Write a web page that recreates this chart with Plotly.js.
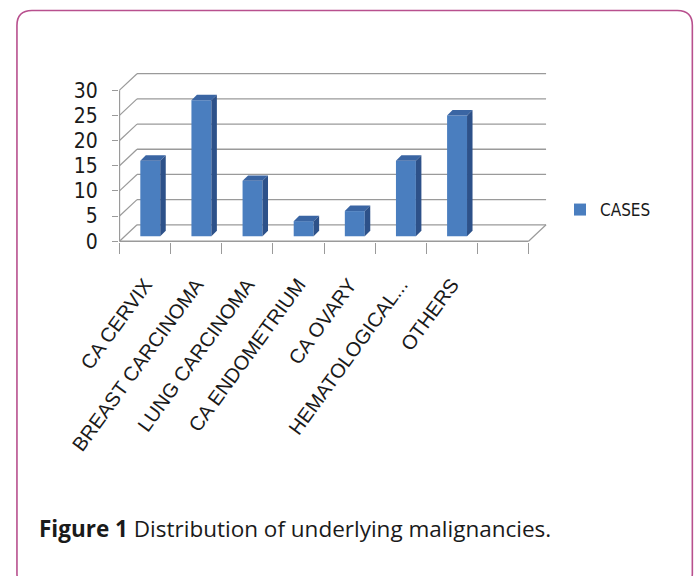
<!DOCTYPE html>
<html>
<head>
<meta charset="utf-8">
<script src="https://cdn.plot.ly/plotly-3.0.1.min.js"></script>
<style>
  html, body { margin: 0; padding: 0; background: #ffffff; }
  #chart { width: 695px; height: 576px; }
</style>
</head>
<body>
<div id="chart"></div>
<script>
// ---- data ----
const categories = ['CA CERVIX', 'BREAST CARCINOMA', 'LUNG CARCINOMA', 'CA ENDOMETRIUM', 'CA OVARY', 'HEMATOLOGICAL...', 'OTHERS'];
const cases = [15, 27, 11, 3, 5, 15, 24];
const yTicks = [0, 5, 10, 15, 20, 25, 30];
const seriesName = 'CASES';
const captionBold = 'Figure 1';
const captionText = 'Distribution of underlying malignancies.';

// ---- geometry / style ----
const W = 695, H = 576;
const nSlots = categories.length + 1;
const slotPx = 51.1, unitPx = 5.057;
const frontLeftPx = 119.5, zeroPx = 241.7;
const backDxPx = 17.5, backDyPx = 16.5;
const barShiftXPx = 5.2, barShiftYPx = 5.0, barDepthPx = 5.5;
const barWidth = 0.39;

const xr = [-0.51, nSlots - 0.5 + 0.4];
const yr = [-0.15, 34];
const ml = frontLeftPx + (xr[0] + 0.5) * slotPx;
const plotW = (xr[1] - xr[0]) * slotPx;
const mt = zeroPx - yr[1] * unitPx;
const plotH = (yr[1] - yr[0]) * unitPx;
const mb = H - mt - plotH;
const mr = W - ml - plotW;

const bdx = backDxPx / slotPx, bdy = backDyPx / unitPx;
const fx = barShiftXPx / slotPx, fy = barShiftYPx / unitPx;
const ddx = barDepthPx / slotPx, ddy = barDepthPx / unitPx;

const gridColor = '#9a9a9a';
const frontColor = '#4a7ebf', topColor = '#3a65a3', sideColor = '#2d5189';
const condensed = 'DejaVu Sans Condensed, Liberation Sans, Arial, sans-serif';
const regular = 'Liberation Sans, Arial, sans-serif';

function px2paperX(p) { return (p - ml) / plotW; }
function px2paperY(p) { return (H - mb - p) / plotH; }

const shapes = [];
const yMax = yTicks[yTicks.length - 1];
const xL = -0.5, xR = nSlots - 0.5;
// back wall gridlines and left diagonals
yTicks.forEach(v => {
  shapes.push({type: 'line', xref: 'x', yref: 'y', layer: 'below',
    x0: xL + bdx, y0: v + bdy, x1: xR + bdx, y1: v + bdy,
    line: {color: gridColor, width: 1.3}});
  shapes.push({type: 'line', xref: 'x', yref: 'y', layer: 'below',
    x0: xL, y0: v, x1: xL + bdx, y1: v + bdy,
    line: {color: gridColor, width: 1.2}});
});
// floor front edge and right diagonal
shapes.push({type: 'line', xref: 'x', yref: 'y', layer: 'below',
  x0: xL, y0: 0, x1: xR, y1: 0, line: {color: gridColor, width: 1.3}});
shapes.push({type: 'line', xref: 'x', yref: 'y', layer: 'below',
  x0: xR, y0: 0, x1: xR + bdx, y1: bdy, line: {color: gridColor, width: 1.2}});
// front value axis
shapes.push({type: 'line', xref: 'x', yref: 'y', layer: 'below',
  x0: xL, y0: 0, x1: xL, y1: yMax, line: {color: gridColor, width: 1.3}});

// 3D faces of bars
cases.forEach((v, i) => {
  const x0 = i + fx - barWidth / 2, x1 = x0 + barWidth;
  const yb = fy, yt = fy + v;
  shapes.push({type: 'path', xref: 'x', yref: 'y', layer: 'above',
    path: `M${x0},${yt}L${x1},${yt}L${x1 + ddx},${yt + ddy}L${x0 + ddx},${yt + ddy}Z`,
    fillcolor: topColor, line: {width: 0}});
  shapes.push({type: 'path', xref: 'x', yref: 'y', layer: 'above',
    path: `M${x1},${yb}L${x1},${yt}L${x1 + ddx},${yt + ddy}L${x1 + ddx},${yb + ddy}Z`,
    fillcolor: sideColor, line: {width: 0}});
});

// page frame (rounded rectangle)
(function () {
  const l = 17, t = 10, r = 692, b = 590, rad = 15;
  const X = px2paperX, Y = px2paperY;
  const p = `M${X(l + rad)},${Y(t)}L${X(r - rad)},${Y(t)}Q${X(r)},${Y(t)} ${X(r)},${Y(t + rad)}` +
    `L${X(r)},${Y(b - rad)}Q${X(r)},${Y(b)} ${X(r - rad)},${Y(b)}` +
    `L${X(l + rad)},${Y(b)}Q${X(l)},${Y(b)} ${X(l)},${Y(b - rad)}` +
    `L${X(l)},${Y(t + rad)}Q${X(l)},${Y(t)} ${X(l + rad)},${Y(t)}Z`;
  shapes.push({type: 'path', xref: 'paper', yref: 'paper', layer: 'below', path: p,
    line: {color: '#b8508e', width: 1.6}, fillcolor: 'rgba(0,0,0,0)'});
})();

const trace = {
  type: 'bar',
  name: seriesName,
  x: categories.map((c, i) => i),
  y: cases,
  base: fy,
  width: barWidth,
  offset: fx - barWidth / 2,
  marker: {color: frontColor, line: {width: 0}},
  hovertemplate: '%{customdata}: %{y}<extra></extra>',
  customdata: categories,
  showlegend: true
};

const layout = {
  width: W, height: H,
  paper_bgcolor: '#ffffff', plot_bgcolor: 'rgba(0,0,0,0)',
  margin: {l: ml, r: mr, t: mt, b: mb, pad: 0, autoexpand: false},
  showlegend: true,
  xaxis: {
    range: xr, type: 'linear',
    tickmode: 'array', tickvals: categories.map((c, i) => i), ticktext: categories,
    ticks: '', tickangle: -54, ticklabelstandoff: 26,
    tickfont: {family: regular, size: 20, color: '#1a1a1a'},
    minor: {tickmode: 'array', tickvals: Array.from({length: nSlots + 1}, (_, k) => k - 0.5),
      ticks: 'outside', ticklen: 11, tickwidth: 1.2, tickcolor: gridColor, showgrid: false},
    showgrid: false, zeroline: false, showline: false, fixedrange: true
  },
  yaxis: {
    range: yr, tickmode: 'array', tickvals: yTicks,
    ticks: 'outside', ticklen: 6, tickwidth: 1.2, tickcolor: gridColor,
    ticklabelstandoff: 10,
    tickfont: {family: condensed, size: 21, color: '#1a1a1a'},
    showgrid: false, zeroline: false, showline: false, fixedrange: true
  },
  legend: {
    xref: 'container', yref: 'container',
    x: 560 / W, y: 1 - 210 / H, xanchor: 'left', yanchor: 'middle',
    bgcolor: 'rgba(0,0,0,0)', font: {family: condensed, size: 17, color: '#1a1a1a'}
  },
  shapes: shapes,
  annotations: [{
    xref: 'paper', yref: 'paper', x: px2paperX(37), y: px2paperY(530),
    xanchor: 'left', yanchor: 'middle', showarrow: false,
    text: '<b>' + captionBold + '</b> ' + captionText,
    font: {family: 'Open Sans, Noto Sans, sans-serif', size: 22.5, color: '#1a1a1a'}
  }]
};

Plotly.newPlot('chart', [trace], layout, {displayModeBar: false, staticPlot: false});
</script>
</body>
</html>
